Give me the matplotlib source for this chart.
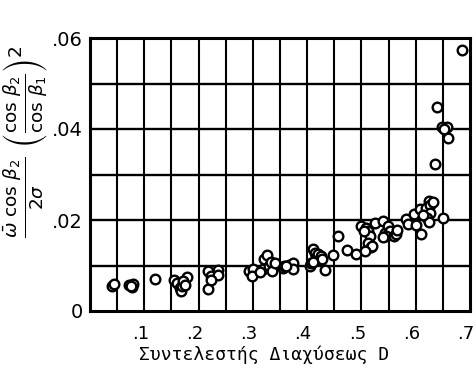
import matplotlib
matplotlib.use("Agg")
import matplotlib.pyplot as plt
import matplotlib.transforms as mtransforms
import numpy as np

x_vals = [0.040, 0.044, 0.072, 0.078, 0.080, 0.075, 0.119, 0.155, 0.160, 0.165,
          0.168, 0.170, 0.178, 0.172, 0.175, 0.217, 0.222, 0.235, 0.236, 0.218,
          0.222, 0.292, 0.300, 0.298, 0.318, 0.320, 0.326, 0.330, 0.333, 0.336,
          0.314, 0.356, 0.340, 0.358, 0.366, 0.374, 0.374, 0.361, 0.405, 0.411,
          0.415, 0.418, 0.420, 0.422, 0.425, 0.428, 0.432, 0.408, 0.411, 0.448,
          0.457, 0.473, 0.490, 0.500, 0.509, 0.512, 0.515, 0.512, 0.518, 0.520,
          0.506, 0.505, 0.525, 0.540, 0.543, 0.549, 0.552, 0.545, 0.540, 0.560,
          0.563, 0.566, 0.583, 0.586, 0.601, 0.610, 0.597, 0.607, 0.619, 0.625,
          0.627, 0.627, 0.621, 0.624, 0.632, 0.613, 0.650, 0.686, 0.640, 0.648,
          0.658, 0.660, 0.652, 0.635]
y_vals = [0.0055, 0.0060, 0.0058, 0.0052, 0.0060, 0.0055, 0.0071, 0.0068, 0.0062, 0.0050,
          0.0045, 0.0055, 0.0075, 0.0065, 0.0058, 0.0088, 0.0078, 0.0090, 0.0080, 0.0048,
          0.0068, 0.0088, 0.0092, 0.0078, 0.0093, 0.0115, 0.0124, 0.0098, 0.0108, 0.0088,
          0.0085, 0.0094, 0.0105, 0.0098, 0.0102, 0.0105, 0.0092, 0.0100, 0.0098, 0.0137,
          0.0128, 0.0120, 0.0125, 0.0113, 0.0120, 0.0115, 0.0090, 0.0105, 0.0108, 0.0124,
          0.0164, 0.0135, 0.0126, 0.0186, 0.0183, 0.0175, 0.0164, 0.0150, 0.0140, 0.0143,
          0.0132, 0.0176, 0.0193, 0.0197, 0.0172, 0.0186, 0.0175, 0.0164, 0.0162, 0.0164,
          0.0170, 0.0178, 0.0203, 0.0192, 0.0188, 0.0170, 0.0214, 0.0224, 0.0227, 0.0242,
          0.0234, 0.0215, 0.0205, 0.0195, 0.0240, 0.0210, 0.0204, 0.0573, 0.0449, 0.0404,
          0.0404, 0.0380, 0.0400, 0.0323]

x_ticks = [0.1, 0.2, 0.3, 0.4, 0.5, 0.6, 0.7]
x_tick_labels = [".1", ".2", ".3", ".4", ".5", ".6", ".7"]
y_ticks = [0.0, 0.02, 0.04, 0.06]
y_tick_labels = ["0", ".02", ".04", ".06"]
x_label = "Συντελεστής Διαχύσεως D"
y_label = r"$\frac{\bar{\omega}\ \cos\,\beta_2}{2\sigma}\ \left(\frac{\cos\,\beta_2}{\cos\,\beta_1}\right)^2$"

fig = plt.figure(figsize=(4.77, 3.82), dpi=100)
ax = fig.add_axes([90/477, 1 - 311/382, 380/477, 273/382])
ax.set_xlim(0, 0.7)
ax.set_ylim(0, 0.06)

for xv in np.arange(0.05, 0.7, 0.05):
    ax.axvline(xv, color="black", lw=1.5, zorder=1)
for yv in np.arange(0.01, 0.06, 0.01):
    ax.axhline(yv, color="black", lw=1.7, zorder=1)

ax.scatter(x_vals, y_vals, s=48, facecolors="white", edgecolors="black",
           linewidths=1.7, zorder=3)

ax.set_xticks(x_ticks)
ax.set_xticklabels(x_tick_labels, fontsize=13)
ax.set_yticks(y_ticks)
ax.set_yticklabels(y_tick_labels, fontsize=14)
ax.tick_params(axis="x", length=0, pad=10)
ax.tick_params(axis="y", length=0, pad=5)
shift = mtransforms.ScaledTranslation(-4/100, 0, fig.dpi_scale_trans)
for lbl in ax.get_xticklabels():
    lbl.set_transform(lbl.get_transform() + shift)
for s in ax.spines.values():
    s.set_linewidth(2.2)

fig.text(264/477, 1 - 355/382, x_label, fontsize=13, family="DejaVu Sans Mono",
         ha="center", va="center")
fig.text(26/477, 1 - 142/382, y_label, rotation=90, fontsize=19,
         ha="center", va="center")

fig.savefig("out.png", dpi=100)
